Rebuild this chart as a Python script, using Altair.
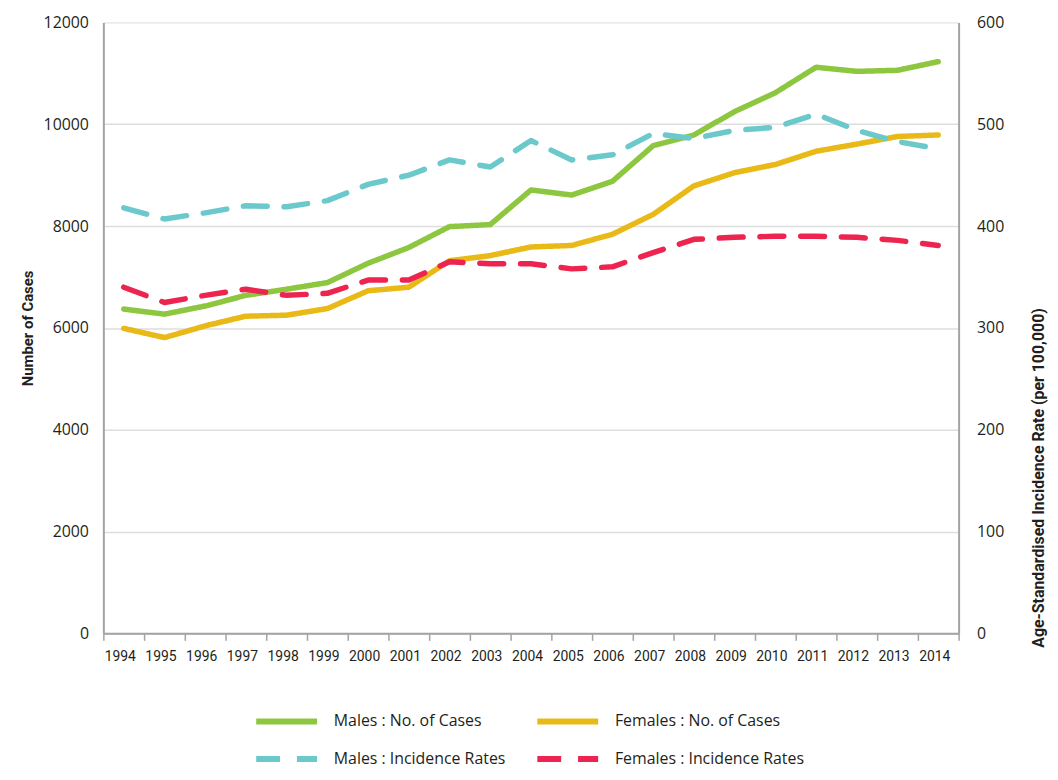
import altair as alt
import pandas as pd

years = ["1994", "1995", "1996", "1997", "1998", "1999", "2000", "2001", "2002", "2003", "2004",
         "2005", "2006", "2007", "2008", "2009", "2010", "2011", "2012", "2013", "2014"]
males_cases = [6370, 6270, 6430, 6640, 6760, 6890, 7270, 7580, 7990, 8030, 8710,
               8610, 8880, 9580, 9790, 10250, 10620, 11120, 11040, 11060, 11230]
females_cases = [5990, 5810, 6040, 6230, 6250, 6380, 6730, 6800, 7320, 7420, 7590,
                 7620, 7840, 8230, 8790, 9050, 9210, 9470, 9610, 9760, 9790]
males_rates = [418, 407, 413, 420, 419, 425, 441, 450, 465, 458, 484,
               465, 470, 491, 486, 494, 497, 510, 494, 483, 476]
females_rates = [340, 325, 332, 338, 332, 334, 347, 347, 365, 363, 363,
                 358, 360, 374, 387, 389, 390, 390, 389, 386, 381]

series_names = ["Males : No. of Cases", "Females : No. of Cases",
                "Males : Incidence Rates", "Females : Incidence Rates"]
series_colors = ["#8DC63F", "#E9B918", "#6CC9CB", "#EE2450"]
left_ticks = [0, 2000, 4000, 6000, 8000, 10000, 12000]
right_ticks = [0, 100, 200, 300, 400, 500, 600]

rows = []
for i, yr in enumerate(years):
    rows.append({"year": yr, "series": series_names[0], "kind": "cases", "value": males_cases[i]})
    rows.append({"year": yr, "series": series_names[1], "kind": "cases", "value": females_cases[i]})
    rows.append({"year": yr, "series": series_names[2], "kind": "rates", "value": males_rates[i]})
    rows.append({"year": yr, "series": series_names[3], "kind": "rates", "value": females_rates[i]})
df = pd.DataFrame(rows)

COND = "Roboto, Open Sans, sans-serif"
TXT = "#231f20"
AXC = "#a3a3a3"

legend = alt.Legend(
    title=None, orient="none", legendX=175, legendY=694, direction="horizontal",
    columns=2, symbolType="M-5,0H5", symbolSize=150, symbolStrokeWidth=6,
    labelFont="Open Sans", labelFontSize=16, labelColor=TXT, labelOffset=38,
    columnPadding=19, rowPadding=13, labelLimit=400,
)

color = alt.Color("series:N", scale=alt.Scale(domain=series_names, range=series_colors), legend=legend)
dash = alt.StrokeDash("series:N", scale=alt.Scale(domain=series_names,
                      range=[[1, 0], [1, 0], [24, 17], [24, 17]]), legend=legend)

x = alt.X("year:O", sort=years,
          scale=alt.Scale(type="band", paddingInner=0, paddingOuter=0),
          axis=alt.Axis(title=None, labelAngle=0, tickBand="extent", tickSize=7, tickWidth=1.5,
                        tickColor=AXC, domainColor=AXC, domainWidth=2, labelFont=COND,
                        labelFontSize=14, labelColor=TXT, labelPadding=9, labelOffset=-4, grid=False))

base = alt.Chart(df).mark_line(strokeWidth=5.5, strokeCap="round", strokeJoin="round")

cases = base.transform_filter(alt.datum.kind == "cases").encode(
    x=x,
    y=alt.Y("value:Q", scale=alt.Scale(domain=[0, 12000]),
            axis=alt.Axis(title="Number of Cases", values=left_ticks, format="d", ticks=False, tickSize=0,
                          labelPadding=15, labelFont="Open Sans", labelFontSize=16, labelColor=TXT,
                          titleFont=COND, titleFontSize=15, titleFontWeight="bold", titleColor=TXT,
                          titlePadding=8, domainColor=AXC, domainWidth=2,
                          grid=True, gridColor="#dedede", gridWidth=1.5,
                          gridOpacity=alt.condition("datum.value == 12000", alt.value(0), alt.value(1)))),
    color=color, strokeDash=dash, detail="series:N",
)

rates = base.transform_filter(alt.datum.kind == "rates").encode(
    x=x,
    y=alt.Y("value:Q", scale=alt.Scale(domain=[0, 600]),
            axis=alt.Axis(title="Age-Standardised Incidence Rate (per 100,000)", orient="right",
                          values=right_ticks, format="d", ticks=False, tickSize=0, labelPadding=18,
                          labelFont="Open Sans", labelFontSize=16, labelColor=TXT,
                          titleFont=COND, titleFontSize=16, titleFontWeight="bold", titleColor=TXT,
                          titleAngle=270, titleAlign="left", titleBaseline="top",
                          titleX=72, titleY=629, domainColor=AXC, domainWidth=2, grid=False)),
    color=color, strokeDash=dash, detail="series:N",
)

chart = alt.layer(cases, rates).resolve_scale(y="independent").properties(
    width=861, height=615,
    autosize=alt.AutoSizeParams(type="none"),
    padding={"left": 96, "top": 12, "right": 92, "bottom": 137},
).configure_view(stroke=None).configure(background="white")

chart.save("out.html", embed_options={"renderer": "svg", "actions": False})
